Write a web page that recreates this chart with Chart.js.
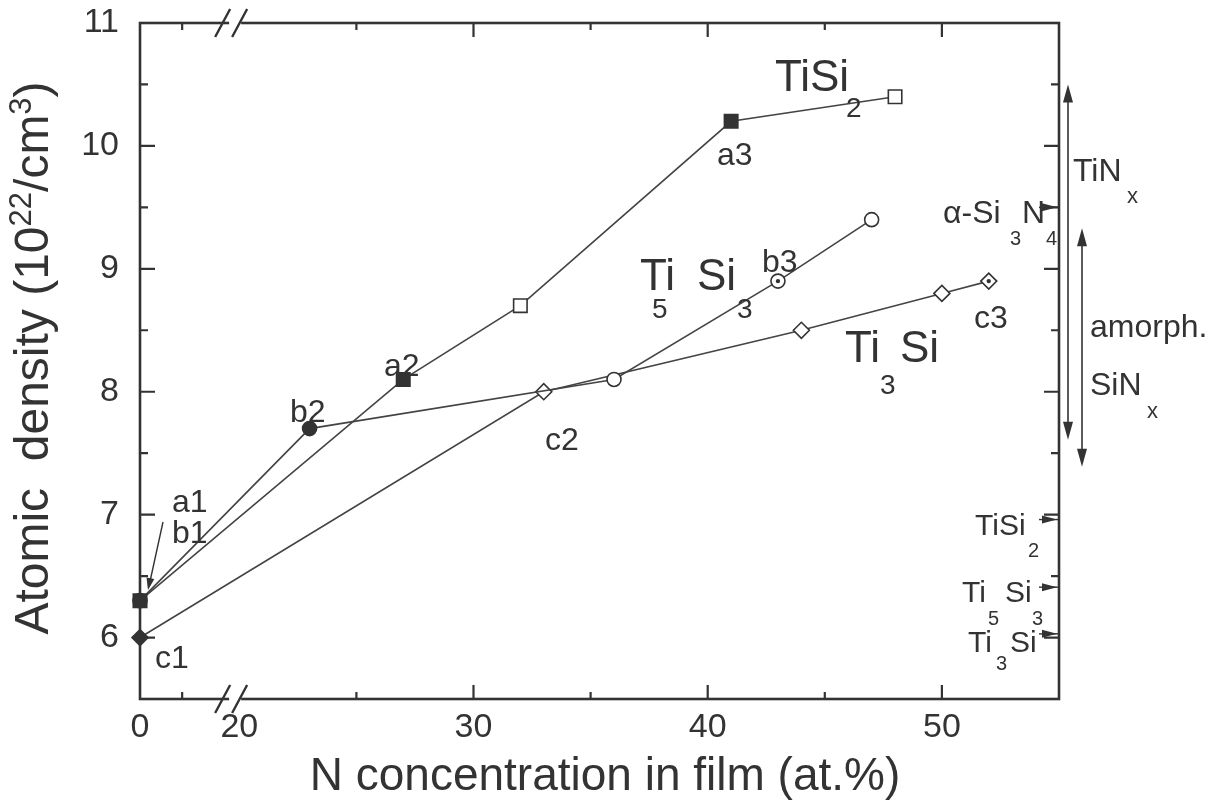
<!DOCTYPE html>
<html>
<head>
<meta charset="utf-8">
<script src="https://cdn.jsdelivr.net/npm/chart.js@4.4.0/dist/chart.umd.min.js"></script>
<style>
  html, body { margin: 0; padding: 0; background: #fff; }
  #wrap { width: 1228px; height: 812px; }
</style>
</head>
<body>
<div id="wrap"><canvas id="chart" width="1228" height="812"></canvas></div>
<script>
/* ── Data ───────────────────────────────────────────────────── */
// N concentration (at.%) and atomic density (10^22/cm^3) per sample series
const A_N    = [0, 27, 32, 41, 48];
const A_D    = [6.3, 8.1, 8.7, 10.2, 10.4];
const A_FILL = ['solid', 'solid', 'open', 'solid', 'open'];

const B_N    = [0, 23, 36, 43, 47];
const B_D    = [6.3, 7.7, 8.1, 8.9, 9.4];
const B_FILL = ['solid', 'solid', 'open', 'dot', 'open'];

const C_N    = [0, 33, 44, 50, 52];
const C_D    = [6.0, 8.0, 8.5, 8.8, 8.9];
const C_FILL = ['solid', 'open', 'open', 'open', 'dot'];

// axis ticks
const X_LABELS = [0, 20, 30, 40, 50];
const X_MINOR  = [1.8, 25, 35, 45];
const Y_MAJOR  = [6, 7, 8, 9, 10, 11];
const Y_MINOR  = [5.5, 6.5, 7.5, 8.5, 9.5, 10.5];

// reference densities marked on the right axis
const REF_NAMES = ['a-Si3N4', 'TiSi2', 'Ti5Si3', 'Ti3Si'];
const REF_D     = [9.5, 6.96, 6.41, 6.03];

// density ranges (double arrows): TiNx, amorph. SiNx
const RANGE_NAMES = ['TiNx', 'SiNx'];
const RANGE_HI    = [10.5, 9.33];
const RANGE_LO    = [7.61, 7.39];

/* ── Style ──────────────────────────────────────────────────── */
const INK  = '#333333';
const LINE = '#444444';
const FONT = '"Liberation Sans", Arial, Helvetica, sans-serif';

// broken x axis: the 0 value sits just left of the break, 20+ is linear
const X_ZERO_AT = 15.76;
function toAxis(n) { return n < 10 ? X_ZERO_AT + n : n; }

function series(ns, ds, fills, style, r) {
  return {
    showLine: true,
    clip: false,
    data: ns.map((n, i) => ({ x: toAxis(n), y: ds[i] })),
    borderColor: LINE,
    borderWidth: 1.6,
    pointStyle: style,
    pointRadius: r,
    pointHoverRadius: r,
    pointBackgroundColor: fills.map(f => f === 'solid' ? INK : '#fff'),
    pointBorderColor: INK,
    pointBorderWidth: 1.6,
  };
}

// centre dots of the "dotted" markers
function dots() {
  const pts = [];
  [[A_N, A_D, A_FILL], [B_N, B_D, B_FILL], [C_N, C_D, C_FILL]].forEach(([ns, ds, fs]) => {
    fs.forEach((f, i) => { if (f === 'dot') pts.push({ x: toAxis(ns[i]), y: ds[i] }); });
  });
  return {
    order: -1, showLine: false, clip: false, data: pts,
    pointStyle: 'circle', pointRadius: 2.2, pointBackgroundColor: INK, pointBorderWidth: 0,
  };
}

/* ── Text annotations: [text, x, baseline y, size] ─────────── */
const LABELS = [
  ['a1', 172, 512, 32], ['b1', 172, 543, 32], ['c1', 155, 668, 32],
  ['b2', 290, 422, 32], ['a2', 384, 376, 32], ['a3', 717, 165, 32],
  ['c2', 545, 450, 32], ['b3', 762, 272, 32], ['c3', 974, 328, 32],
  ['TiSi', 775, 91, 44], ['2', 846, 117, 28],
  ['Ti', 640, 290, 44], ['5', 652, 318, 28], ['Si', 697, 290, 44], ['3', 737, 318, 28],
  ['Ti', 845, 362, 44], ['3', 880, 394, 28], ['Si', 900, 362, 44],
  ['TiN', 1073, 181, 32], ['x', 1127, 203, 22],
  ['\u03b1-Si', 943, 223, 32], ['3', 1010, 245, 20], ['N', 1022, 223, 32], ['4', 1046, 245, 20],
  ['amorph.', 1090, 337, 32],
  ['SiN', 1090, 395, 32], ['x', 1147, 418, 22],
  ['TiSi', 975, 535, 30], ['2', 1028, 557, 20],
  ['Ti', 962, 602, 30], ['5', 988, 625, 20], ['Si', 1005, 602, 30], ['3', 1032, 625, 20],
  ['Ti', 968, 652, 30], ['3', 996, 670, 20], ['Si', 1010, 652, 30],
];

function arrowHead(ctx, x, y, ang, len, half) {
  ctx.beginPath();
  ctx.moveTo(x, y);
  ctx.lineTo(x - len * Math.cos(ang) + half * Math.sin(ang), y - len * Math.sin(ang) - half * Math.cos(ang));
  ctx.lineTo(x - len * Math.cos(ang) - half * Math.sin(ang), y - len * Math.sin(ang) + half * Math.cos(ang));
  ctx.closePath();
  ctx.fill();
}

/* ── Frame, ticks, axis break, titles, notes ───────────────── */
const framePlugin = {
  id: 'frame',
  beforeDatasetsDraw(chart) {
    const { ctx, chartArea: a, scales: { x, y } } = chart;
    ctx.save();
    ctx.strokeStyle = INK;
    ctx.lineWidth = 2.6;
    ctx.strokeRect(a.left, a.top, a.right - a.left, a.bottom - a.top);

    ctx.lineWidth = 2.2;
    ctx.beginPath();
    const xt = (vals, len) => vals.forEach(v => {
      const px = x.getPixelForValue(toAxis(v));
      ctx.moveTo(px, a.bottom); ctx.lineTo(px, a.bottom - len);
      ctx.moveTo(px, a.top);    ctx.lineTo(px, a.top + len);
    });
    xt(X_LABELS.filter(v => v >= 30), 14);
    xt(X_MINOR, 7);
    const yt = (vals, len) => vals.forEach(v => {
      const py = y.getPixelForValue(v);
      ctx.moveTo(a.left, py);  ctx.lineTo(a.left + len, py);
      ctx.moveTo(a.right, py); ctx.lineTo(a.right - len, py);
    });
    yt(Y_MAJOR, 15);
    yt(Y_MINOR, 8);
    ctx.stroke();

    // axis break marks, sitting on the 20 position
    const bx = x.getPixelForValue(19.95);
    [a.top, a.bottom].forEach(yy => {
      ctx.fillStyle = '#fff';
      ctx.fillRect(bx - 9, yy - 3, 12, 6);
      ctx.lineWidth = 2.4;
      ctx.beginPath();
      ctx.moveTo(bx - 23, yy + 14); ctx.lineTo(bx - 8, yy - 14);
      ctx.moveTo(bx - 6, yy + 14);  ctx.lineTo(bx + 9, yy - 14);
      ctx.stroke();
    });
    ctx.restore();
  },
  afterDraw(chart) {
    const { ctx, chartArea: a, scales: { x, y } } = chart;
    ctx.save();
    ctx.fillStyle = INK;
    ctx.strokeStyle = INK;
    ctx.textBaseline = 'alphabetic';
    ctx.textAlign = 'left';

    // y title (rotated, with superscripts)
    const big = `48px ${FONT}`, small = `31px ${FONT}`;
    const parts = [['Atomic  density (10', big, 0], ['22', small, -17], ['/cm', big, 0], ['3', small, -17], [')', big, 0]];
    let total = 0;
    parts.forEach(p => { ctx.font = p[1]; total += ctx.measureText(p[0]).width; });
    ctx.save();
    ctx.translate(48, 358);
    ctx.rotate(-Math.PI / 2);
    let cx = -total / 2;
    parts.forEach(p => { ctx.font = p[1]; ctx.fillText(p[0], cx, p[2]); cx += ctx.measureText(p[0]).width; });
    ctx.restore();

    // x title
    ctx.font = `46px ${FONT}`;
    ctx.textAlign = 'center';
    ctx.fillText('N concentration in film (at.%)', 605, 790);
    ctx.textAlign = 'left';

    // notes
    LABELS.forEach(([t, lx, ly, sz]) => {
      ctx.font = `${sz}px ${FONT}`;
      ctx.fillText(t, lx, ly);
    });

    // b1 pointer
    ctx.lineWidth = 1.4;
    ctx.beginPath(); ctx.moveTo(163, 522); ctx.lineTo(149, 586); ctx.stroke();
    arrowHead(ctx, 148, 590, Math.atan2(68, -14), 12, 4);

    // reference markers on the right axis
    REF_D.forEach(d => {
      const py = y.getPixelForValue(d);
      ctx.beginPath(); ctx.moveTo(a.right - 20, py); ctx.lineTo(a.right, py); ctx.stroke();
      arrowHead(ctx, a.right - 2, py, 0, 15, 4);
    });

    // range double arrows
    const rx = [a.right + 9, a.right + 23];
    RANGE_HI.forEach((hi, i) => {
      const top = y.getPixelForValue(hi), bot = y.getPixelForValue(RANGE_LO[i]);
      ctx.lineWidth = 1.6;
      ctx.beginPath(); ctx.moveTo(rx[i], top + 10); ctx.lineTo(rx[i], bot - 10); ctx.stroke();
      arrowHead(ctx, rx[i], top, -Math.PI / 2, 18, 5);
      arrowHead(ctx, rx[i], bot, Math.PI / 2, 18, 5);
    });
    ctx.restore();
  }
};

/* ── Chart ─────────────────────────────────────────────────── */
const datasets = [
  series(A_N, A_D, A_FILL, 'rect', 9.5),
  series(B_N, B_D, B_FILL, 'circle', 7),
  series(C_N, C_D, C_FILL, 'rectRot', 8),
  dots(),
];

new Chart(document.getElementById('chart'), {
  type: 'scatter',
  data: { datasets },
  options: {
    responsive: false,
    animation: false,
    events: [],
    devicePixelRatio: 1,
    layout: { padding: { top: 23, right: 169, left: 0, bottom: 0 } },
    plugins: { legend: { display: false }, tooltip: { enabled: false } },
    scales: {
      x: {
        type: 'linear', position: 'bottom',
        min: toAxis(0), max: 55,
        grid: { display: false, drawTicks: false },
        border: { display: false },
        afterBuildTicks: s => { s.ticks = X_LABELS.map(v => ({ value: toAxis(v) })); },
        afterFit: s => { s.height = 113; s.paddingLeft = 0; s.paddingRight = 0; },
        ticks: {
          font: { family: FONT, size: 34 }, color: INK, padding: 8,
          maxRotation: 0, autoSkip: false,
          callback: (v, i) => String(X_LABELS[i]),
        },
      },
      y: {
        type: 'linear', position: 'left',
        min: 5.5, max: 11,
        grid: { display: false, drawTicks: false },
        border: { display: false },
        afterBuildTicks: s => { s.ticks = Y_MAJOR.map(v => ({ value: v })); },
        afterFit: s => { s.width = 140; s.paddingTop = 0; s.paddingBottom = 0; },
        ticks: {
          font: { family: FONT, size: 34 }, color: INK, padding: 21,
          callback: v => String(v),
        },
      },
    },
  },
  plugins: [framePlugin],
});
</script>
</body>
</html>
